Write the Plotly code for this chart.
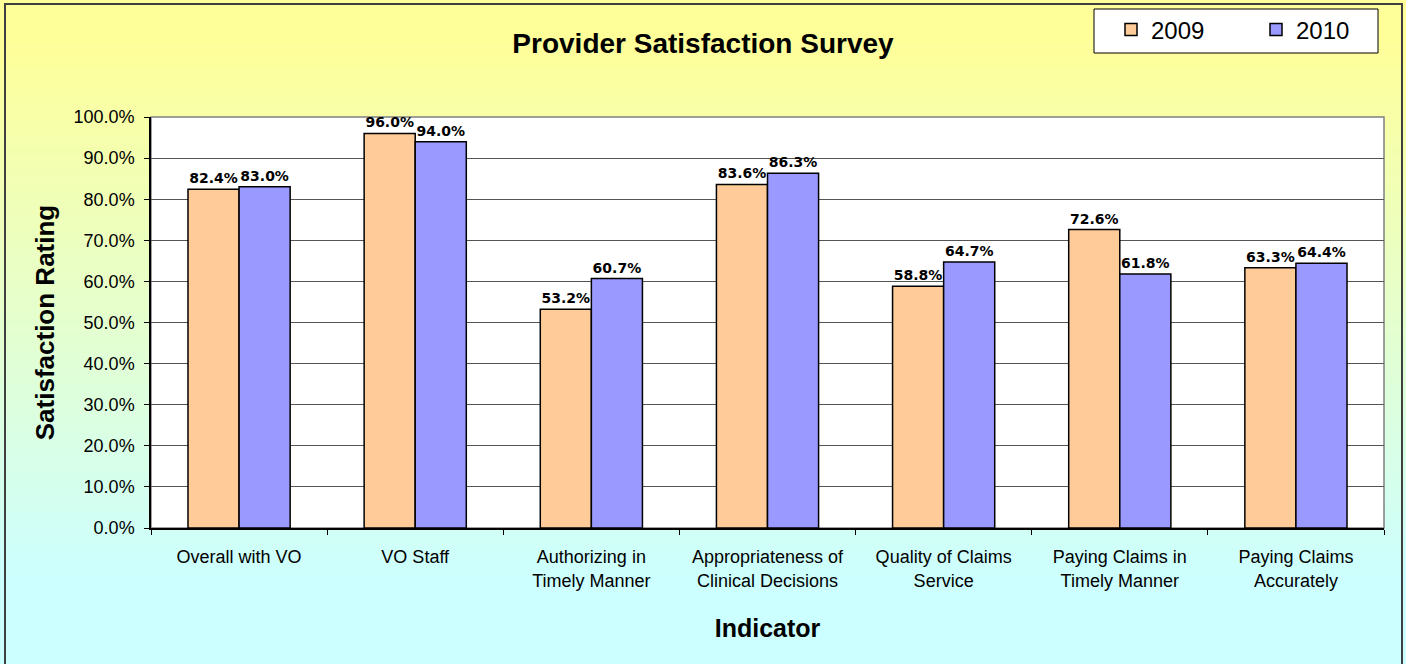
import plotly.graph_objects as go

# data
indicators = ["Overall with VO", "VO Staff", "Authorizing in<br>Timely Manner",
              "Appropriateness of<br>Clinical Decisions", "Quality of Claims<br>Service",
              "Paying Claims in<br>Timely Manner", "Paying Claims<br>Accurately"]
rating_2009 = [0.824, 0.960, 0.532, 0.836, 0.588, 0.726, 0.633]
rating_2010 = [0.830, 0.940, 0.607, 0.863, 0.647, 0.618, 0.644]

W, H = 1406, 664
L, R, T, B = 151, 22, 117, 136
pw, ph = W - L - R, H - T - B

def px(x):  # pixel -> paper x
    return (x - L) / pw

def py(y):  # pixel -> paper y
    return (H - B - y) / ph

fig = go.Figure()
fig.add_trace(go.Bar(x=indicators, y=rating_2009, name="2009",
                     marker=dict(color="#FFCC99", line=dict(color="black", width=1.5)),
                     texttemplate="%{y:.1%}", textposition="outside", cliponaxis=False))
fig.add_trace(go.Bar(x=indicators, y=rating_2010, name="2010",
                     marker=dict(color="#9999FF", line=dict(color="black", width=1.5)),
                     texttemplate="%{y:.1%}", textposition="outside", cliponaxis=False))
fig.update_traces(textfont=dict(family="DejaVu Sans", size=14, color="black", weight="bold"))

# background gradient (yellow -> light cyan), drawn as thin bands
shapes = []
top_c, bot_c = (255, 255, 153), (204, 255, 255)
n = 90
for i in range(n):
    y0 = i * H / n
    y1 = (i + 1) * H / n + 0.5
    t = min(max(((y0 + y1) / 2 - 40) / 540, 0), 1)
    c = tuple(round(a + (b - a) * t) for a, b in zip(top_c, bot_c))
    shapes.append(dict(type="rect", xref="paper", yref="paper", layer="below",
                       x0=px(0), x1=px(W), y0=py(y1), y1=py(y0),
                       fillcolor="rgb(%d,%d,%d)" % c, line=dict(width=0)))
# plot area
shapes.append(dict(type="rect", xref="paper", yref="paper", layer="below",
                   x0=0, x1=1, y0=0, y1=1, fillcolor="white",
                   line=dict(color="#808080", width=1.5)))
# legend box
shapes.append(dict(type="rect", xref="paper", yref="paper", layer="below",
                   x0=px(1094), x1=px(1378), y0=py(53), y1=py(9), fillcolor="white",
                   line=dict(color="black", width=1)))
# outer chart border
shapes.append(dict(type="rect", xref="paper", yref="paper", layer="above",
                   x0=px(5), x1=px(1402), y0=py(668), y1=py(4),
                   fillcolor="rgba(0,0,0,0)", line=dict(color="#404040", width=2)))

fig.update_layout(
    width=W, height=H,
    margin=dict(l=L, r=R, t=T, b=B, autoexpand=False),
    paper_bgcolor="white", plot_bgcolor="rgba(0,0,0,0)",
    font=dict(family="Liberation Sans, Arial", color="black"),
    title=dict(text="<b>Provider Satisfaction Survey</b>", x=0.5, xanchor="center",
               y=1 - 43 / H, yanchor="middle", font=dict(size=28)),
    barmode="group", bargap=0.42, bargroupgap=0,
    shapes=shapes,
    legend=dict(orientation="h", x=px(1111), xanchor="left", y=py(30), yanchor="middle",
                bgcolor="rgba(0,0,0,0)", borderwidth=0,
                font=dict(size=24), entrywidth=100, entrywidthmode="pixels"),
    xaxis=dict(title=dict(text="<b>Indicator</b>", font=dict(size=25), standoff=30),
               tickfont=dict(size=18), tickson="boundaries", ticks="outside", ticklen=5,
               ticklabelstandoff=12,
               tickcolor="black", showline=True, linecolor="black", linewidth=1.5,
               showgrid=False),
    yaxis=dict(title=dict(text="<b>Satisfaction Rating</b>", font=dict(size=26), standoff=11),
               range=[0, 1], dtick=0.1, tickformat=".1%", tickfont=dict(size=18),
               ticks="outside", ticklen=5, tickcolor="black", ticklabelstandoff=6,
               showline=True, linecolor="black", linewidth=1.5,
               showgrid=True, gridcolor="#555555", gridwidth=1, zeroline=False),
)

fig.write_html("out.html", config={"displayModeBar": False},
               post_script="document.body.style.margin='0';")
